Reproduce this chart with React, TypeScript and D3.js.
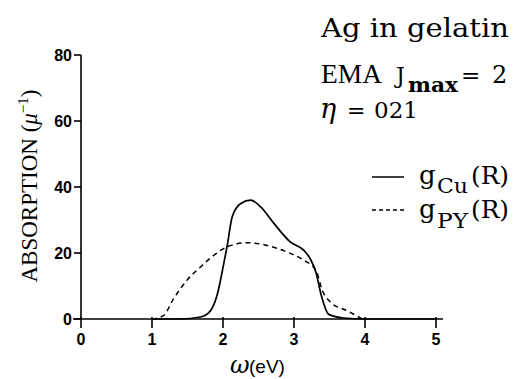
import React from 'react';
import * as d3 from 'd3';

// g_Cu(R) curve (solid)
const cuOmega = [1.0, 1.4, 1.68, 1.82, 1.92, 2.01, 2.06, 2.13, 2.25, 2.39, 2.53, 2.72, 2.95, 3.14, 3.23, 3.31, 3.38, 3.49, 3.7, 4.0, 5.0];
const cuAbs = [0, 0, 0.6, 2.4, 7.5, 16.7, 22.3, 31, 35, 36, 34, 28.9, 23.3, 20.8, 18.2, 14.1, 7.5, 1.4, 0.3, 0, 0];

// g_PY(R) curve (dashed)
const pyOmega = [1.0, 1.16, 1.3, 1.49, 1.68, 1.87, 2.06, 2.34, 2.62, 2.9, 3.14, 3.31, 3.4, 3.52, 3.75, 3.96];
const pyAbs = [0, 1, 6, 11.7, 15.7, 19.3, 21.9, 23.1, 22.3, 20.3, 17.8, 14.7, 8.6, 5, 2.5, 0];

const xTicks = [0, 1, 2, 3, 4, 5];
const yTicks = [0, 20, 40, 60, 80];

const W = 513, H = 379;
const x = d3.scaleLinear().domain([0, 5]).range([81, 436]);
const y = d3.scaleLinear().domain([0, 80]).range([319, 55]);

const line = d3.line<[number, number]>()
  .x(d => x(d[0])).y(d => y(d[1]))
  .curve(d3.curveMonotoneX);

const serif = 'DejaVu Serif';
const tickFont = { fontFamily: 'Liberation Sans', fontWeight: 700, fontSize: 16 };

export default function App() {
  const cu = line(cuOmega.map((o, i) => [o, cuAbs[i]] as [number, number]));
  const py = line(pyOmega.map((o, i) => [o, pyAbs[i]] as [number, number]));
  return (
    <svg width={W} height={H} style={{ position: 'absolute', left: 0, top: 0, background: '#fff' }}>
      {/* axes */}
      <line x1={x(0) - 8} x2={443} y1={y(0)} y2={y(0)} stroke="#000" strokeWidth={1.6} />
      <line x1={x(0)} x2={x(0)} y1={y(0)} y2={y(80)} stroke="#000" strokeWidth={1.6} />
      {xTicks.map(t => (
        <g key={'x' + t}>
          <line x1={x(t)} x2={x(t)} y1={y(0) - 2} y2={y(0) + 9} stroke="#000" strokeWidth={1.6} />
          <text x={x(t)} y={345} textAnchor="middle" {...tickFont}>{t}</text>
        </g>
      ))}
      {yTicks.map(t => (
        <g key={'y' + t}>
          <line x1={x(0) - 7} x2={x(0)} y1={y(t)} y2={y(t)} stroke="#000" strokeWidth={1.6} />
          <text x={72} y={y(t) + 6} textAnchor="end" {...tickFont}>{t}</text>
        </g>
      ))}

      {/* curves */}
      <path d={cu ?? ''} fill="none" stroke="#000" strokeWidth={1.7} />
      <path d={py ?? ''} fill="none" stroke="#000" strokeWidth={1.5} strokeDasharray="5,4" />

      {/* axis titles */}
      <text transform="translate(37,186) rotate(-90)" textAnchor="middle"
        fontFamily="Liberation Serif" fontSize={23}>
        ABSORPTION (<tspan fontStyle="italic">μ</tspan><tspan dy={-9} fontSize={15}>−1</tspan><tspan dy={9}>)</tspan>
      </text>
      <text x={230} y={373} fontFamily={serif} fontStyle="italic" fontSize={24}>ω</text>
      <text x={249} y={373} fontFamily="Liberation Sans" fontSize={19}>(eV)</text>

      {/* annotations */}
      <text x={321} y={37} fontFamily={serif} fontSize={26} textLength={188} lengthAdjust="spacingAndGlyphs">Ag in gelatin</text>
      <text x={321} y={83} fontFamily="Liberation Serif" fontSize={28} textLength={61} lengthAdjust="spacingAndGlyphs">EMA</text>
      <text x={396} y={83} fontFamily={serif} fontSize={22}>J</text>
      <text x={408} y={92} fontFamily={serif} fontSize={21} fontWeight={700} textLength={50} lengthAdjust="spacingAndGlyphs">max</text>
      <text x={461} y={83} fontFamily={serif} fontSize={23}>=</text>
      <text x={492} y={83} fontFamily={serif} fontSize={24}>2</text>
      <text x={320} y={118} fontFamily={serif} fontStyle="italic" fontSize={27}>η</text>
      <text x={347} y={118} fontFamily={serif} fontSize={22}>=</text>
      <text x={374} y={118} fontFamily={serif} fontSize={23}>021</text>

      {/* legend */}
      <line x1={372} x2={404} y1={177} y2={177} stroke="#000" strokeWidth={1.5} />
      <text x={419} y={184} fontFamily={serif} fontSize={26}>g</text>
      <text x={437} y={193} fontFamily={serif} fontSize={20} textLength={31} lengthAdjust="spacingAndGlyphs">Cu</text>
      <text x={471} y={184} fontFamily={serif} fontSize={24} textLength={38} lengthAdjust="spacingAndGlyphs">(R)</text>
      <line x1={372} x2={404} y1={210} y2={210} stroke="#000" strokeWidth={1.3} strokeDasharray="4,3" />
      <text x={419} y={218} fontFamily={serif} fontSize={26}>g</text>
      <text x={437} y={228} fontFamily={serif} fontSize={20} textLength={31} lengthAdjust="spacingAndGlyphs">PY</text>
      <text x={471} y={218} fontFamily={serif} fontSize={24} textLength={38} lengthAdjust="spacingAndGlyphs">(R)</text>
    </svg>
  );
}
